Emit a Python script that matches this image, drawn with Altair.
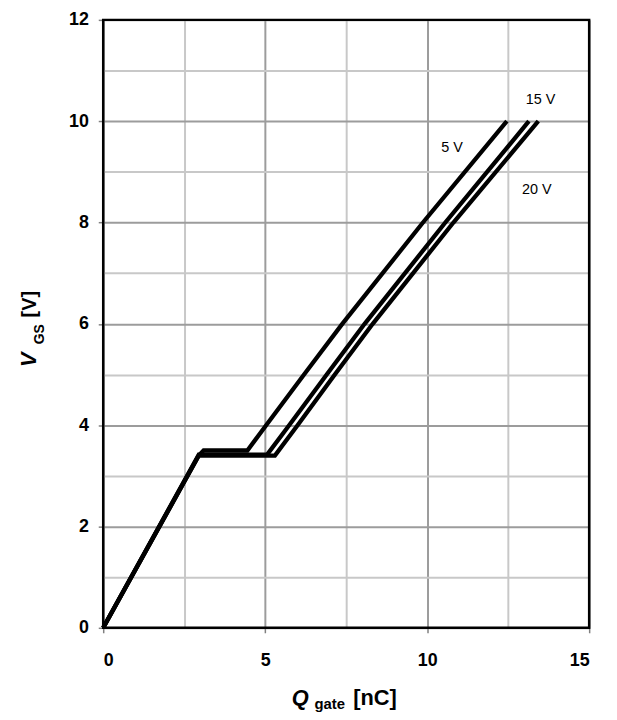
import altair as alt
import pandas as pd

# ---- data ----
series_names = ["5 V", "15 V", "20 V"]
q_5v = [0, 2.95, 3.1, 4.45, 5.03, 6.2, 7.38, 9.87, 12.46]
v_5v = [0, 3.4, 3.5, 3.5, 4, 5, 6, 8, 10]
q_15v = [0, 2.95, 5.06, 5.74, 6.9, 8.07, 10.56, 13.14]
v_15v = [0, 3.42, 3.42, 4, 5, 6, 8, 10]
q_20v = [0, 2.95, 5.3, 6.0, 7.15, 8.32, 10.81, 13.43]
v_20v = [0, 3.4, 3.4, 4, 5, 6, 8, 10]

label_text = ["5 V", "15 V", "20 V"]
label_q = [10.77, 13.5, 13.38]
label_v = [9.47, 10.41, 8.65]

x_ticks = [0, 2.5, 5, 7.5, 10, 12.5, 15]
y_ticks = list(range(0, 13))

rows = []
for name, qs, vs in zip(series_names, [q_5v, q_15v, q_20v], [v_5v, v_15v, v_20v]):
    for i, (q, v) in enumerate(zip(qs, vs)):
        rows.append({"series": name, "q": q, "v": v, "order": i})
df = pd.DataFrame(rows)
lab = pd.DataFrame({"text": label_text, "q": label_q, "v": label_v})

W, H = 490, 613
FONT = "Liberation Sans"

xs = alt.Scale(domain=[0, 15], nice=False, zero=False)
ys = alt.Scale(domain=[0, 12], nice=False, zero=False)

x_axis = alt.Axis(
    values=x_ticks, title=None, grid=True,
    gridColor={"condition": {"test": "datum.value % 5 === 0", "value": "#9c9c9c"}, "value": "#c8c8c8"},
    gridWidth=2,
    tickOpacity={"condition": {"test": "datum.value % 5 === 0", "value": 1}, "value": 0},
    labelExpr="datum.value % 5 === 0 ? datum.label : ''",
    tickColor="#808080", tickSize=5, tickWidth=1.5,
    labelFont=FONT, labelFontSize=18, labelFontWeight="bold", labelColor="black",
    labelPadding=19, domain=False,
)
y_axis = alt.Axis(
    values=y_ticks, title=None, grid=True,
    gridColor={"condition": {"test": "datum.value % 2 === 0", "value": "#9c9c9c"}, "value": "#c8c8c8"},
    gridWidth=2,
    tickOpacity={"condition": {"test": "datum.value % 2 === 0", "value": 1}, "value": 0},
    labelExpr="datum.value % 2 === 0 ? datum.label : ''",
    tickColor="#808080", tickSize=5, tickWidth=1.5,
    labelFont=FONT, labelFontSize=18, labelFontWeight="bold", labelColor="black",
    labelPadding=10, domain=False,
)

lines = alt.Chart(df).mark_line(color="black", strokeWidth=4.3, strokeJoin="miter").encode(
    x=alt.X("q:Q", scale=xs, axis=x_axis),
    y=alt.Y("v:Q", scale=ys, axis=y_axis),
    detail="series:N",
    order="order:Q",
)

labels = alt.Chart(lab).mark_text(font=FONT, fontSize=14.5, color="black", align="center", baseline="middle").encode(
    x=alt.X("q:Q", scale=xs),
    y=alt.Y("v:Q", scale=ys),
    text="text:N",
)

one = pd.DataFrame({"a": [0]})
frame = alt.Chart(one).mark_rect(filled=False, stroke="black", strokeWidth=2.5).encode(
    x=alt.value(0), x2=alt.value(W), y=alt.value(0), y2=alt.value(H)
)

def txt(s, x, y, size, italic=False, angle=0):
    kw = dict(font=FONT, fontSize=size, fontWeight="bold", color="black",
              align="left", baseline="alphabetic", text=s)
    if italic:
        kw["fontStyle"] = "italic"
    if angle:
        kw["angle"] = angle
    return alt.Chart(one).mark_text(**kw).encode(x=alt.value(x), y=alt.value(y))

xt_q = txt("Q", 190, 691, 22, italic=True)
xt_g = txt("gate", 213, 695, 15)
xt_n = txt("[nC]", 252, 691, 22)

yt_v = txt("V", -68, 350, 22, italic=True, angle=270)
yt_g = txt("GS", -60, 327, 14, angle=270)
yt_b = txt("[V]", -68, 300, 20, angle=270)

chart = alt.layer(lines, labels, frame, xt_q, xt_g, xt_n, yt_v, yt_g, yt_b).properties(
    width=W, height=H,
    autosize=alt.AutoSizeParams(type="none"),
    padding={"left": 96, "top": 9, "right": 20, "bottom": 92},
).configure_view(stroke=None)

chart.save("out.html", embed_options={"renderer": "svg", "actions": False})
